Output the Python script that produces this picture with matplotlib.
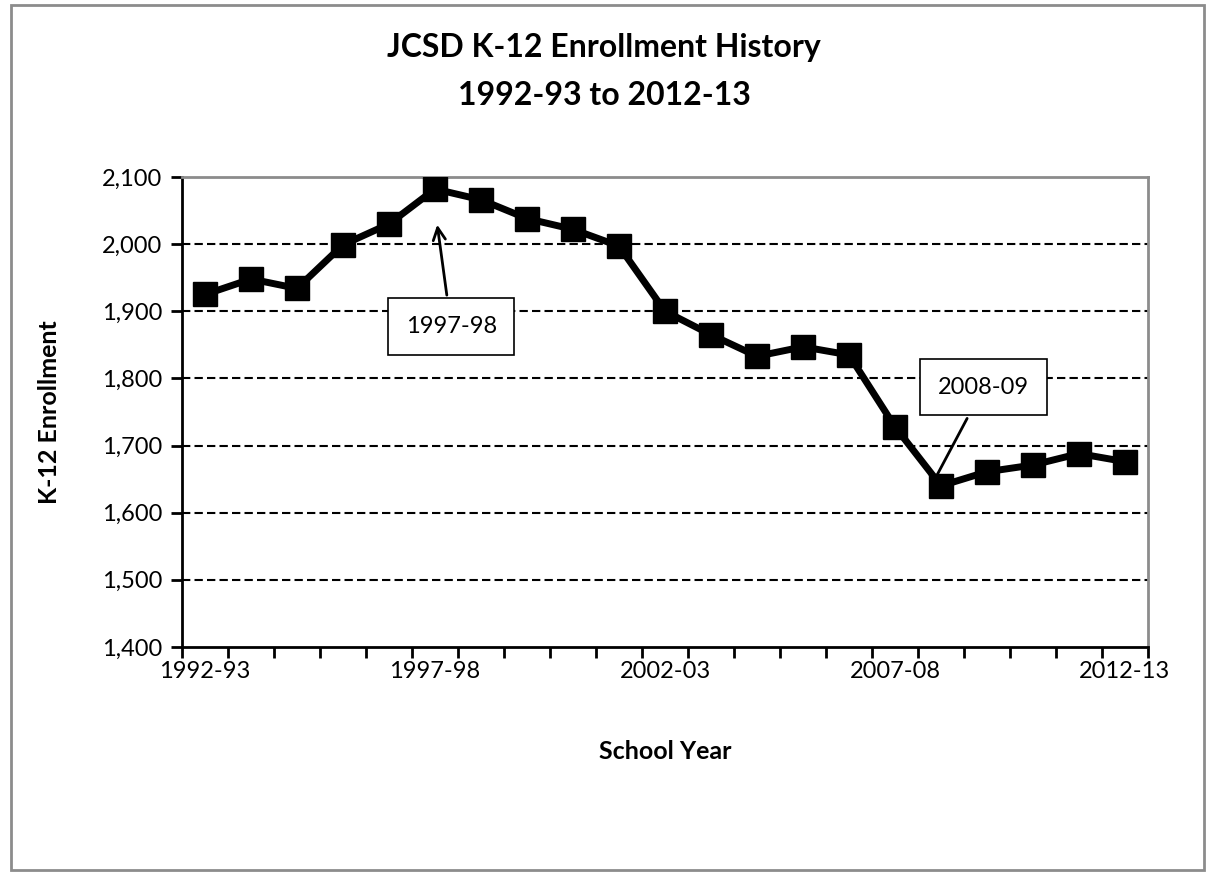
import numpy as np
import matplotlib.pyplot as plt
from matplotlib.patches import Rectangle

# Dados de matrícula K-12
school_years = ["1992-93", "1993-94", "1994-95", "1995-96", "1996-97", "1997-98",
                "1998-99", "1999-00", "2000-01", "2001-02", "2002-03", "2003-04",
                "2004-05", "2005-06", "2006-07", "2007-08", "2008-09", "2009-10",
                "2010-11", "2011-12", "2012-13"]
enrollment = [1925, 1948, 1934, 1999, 2030, 2082, 2066, 2038, 2022, 1997, 1900,
              1865, 1833, 1847, 1835, 1728, 1640, 1661, 1671, 1688, 1676]
y_ticks = [1400, 1500, 1600, 1700, 1800, 1900, 2000, 2100]

plt.rcParams['font.family'] = ['Lato', 'DejaVu Sans']

fig = plt.figure(figsize=(12.08, 8.73), dpi=100)
ax = fig.add_axes([0.1507, 0.2589, 0.7996, 0.5384])

# borda externa cinza
fig.patches.append(Rectangle((0.009, 0.004), 0.988, 0.99, transform=fig.transFigure,
                             fill=False, edgecolor='#8c8c8c', linewidth=2))

x = np.arange(len(school_years))
ax.plot(x, enrollment, color='black', linewidth=5, marker='s', markersize=17,
        solid_joinstyle='miter', zorder=3)

ax.set_xlim(-0.5, len(school_years) - 0.5)
ax.set_ylim(1400, 2100)
ax.set_yticks(y_ticks)
ax.set_yticklabels([f"{v:,}" for v in y_ticks], fontsize=17)
for v in y_ticks[1:]:
    ax.axhline(v, color='black', linestyle=(0, (4, 2)), linewidth=1.5, zorder=1)

# ticks entre categorias, rótulos a cada 5 anos
ax.set_xticks(np.arange(-0.5, len(school_years), 1.0))
ax.set_xticklabels([])
ax.set_xticks(x[::5], minor=True)
ax.set_xticklabels(school_years[::5], minor=True, fontsize=17)
ax.tick_params(axis='x', which='minor', length=0, pad=10)
ax.tick_params(axis='x', which='major', length=8, width=2, direction='out')
ax.tick_params(axis='y', length=8, width=2, direction='out', pad=6)

ax.spines['left'].set_linewidth(2)
ax.spines['bottom'].set_linewidth(2)
ax.spines['top'].set_color('#8c8c8c')
ax.spines['right'].set_color('#8c8c8c')
ax.spines['top'].set_linewidth(2)
ax.spines['right'].set_linewidth(2)

ax.set_xlabel("School Year", fontsize=18, fontweight='bold', labelpad=42)
ax.set_ylabel("K-12 Enrollment", fontsize=18, fontweight='bold', labelpad=30)
fig.suptitle("JCSD K-12 Enrollment History\n1992-93 to 2012-13", fontsize=23,
             fontweight='bold', y=0.962, linespacing=1.8)

# anotações
box = dict(boxstyle='square,pad=0.75', facecolor='white', edgecolor='black', linewidth=1.2)
ax.annotate("1997-98", xy=(5.04, 2033), xytext=(5.35, 1877), fontsize=17,
            ha='center', va='center', bbox=box,
            arrowprops=dict(arrowstyle='->', color='black', lw=2, mutation_scale=22))
ax.annotate("2008-09", xy=(15.72, 1631), xytext=(16.93, 1787), fontsize=17,
            ha='center', va='center', bbox=box,
            arrowprops=dict(arrowstyle='->', color='black', lw=2, mutation_scale=22))

fig.savefig("out.png", dpi=100)
